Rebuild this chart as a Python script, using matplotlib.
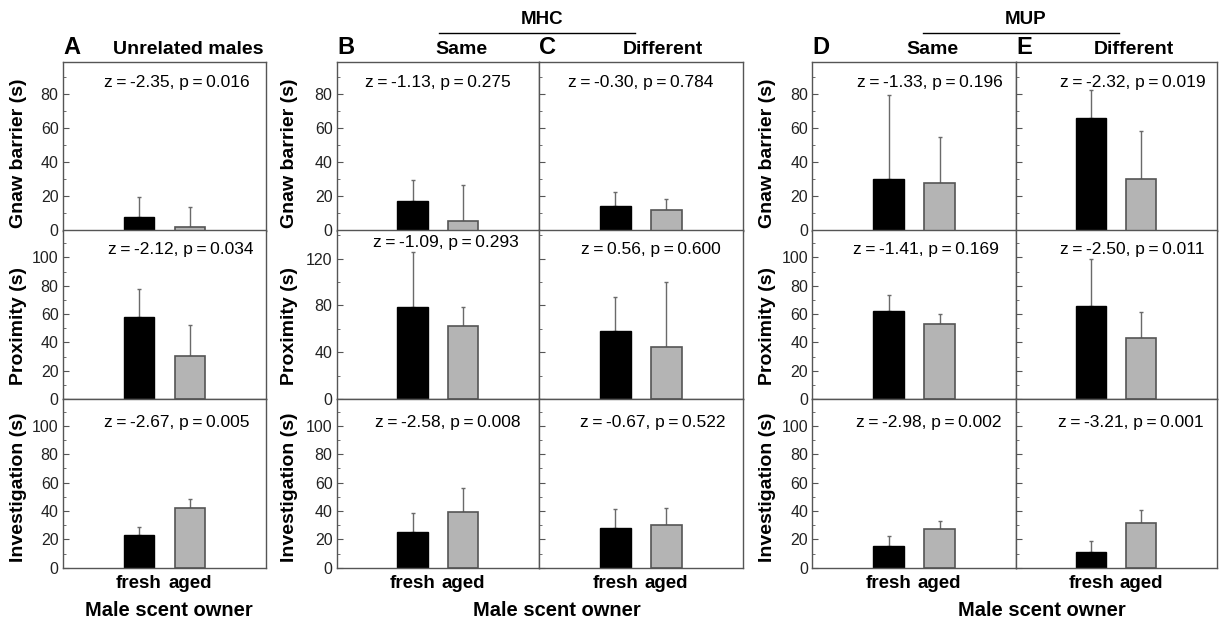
import matplotlib
matplotlib.use('Agg')
import matplotlib.pyplot as plt
from matplotlib.ticker import MultipleLocator
from matplotlib.lines import Line2D

plt.rcParams['font.family'] = ['Liberation Sans', 'DejaVu Sans']

W, H = 1221, 622

# data (means and SEM, seconds)
panels = ['A', 'B', 'C', 'D', 'E']
conditions = ['fresh', 'aged']
measures = ['Gnaw barrier (s)', 'Proximity (s)', 'Investigation (s)']

gnaw_fresh = [8.2, 17.4, 14.3, 30.2, 66.2]
gnaw_fresh_se = [11.3, 12.0, 8.2, 49.6, 16.5]
gnaw_aged = [2.1, 5.6, 12.1, 28.0, 30.2]
gnaw_aged_se = [11.9, 21.0, 6.5, 27.0, 28.2]

prox_fresh = [58.1, 78.6, 57.7, 61.9, 65.9]
prox_fresh_se = [19.5, 46.8, 29.4, 11.3, 32.7]
prox_aged = [30.6, 62.6, 44.8, 52.7, 42.8]
prox_aged_se = [21.4, 15.7, 54.9, 7.1, 18.6]

inv_fresh = [23.2, 25.1, 27.7, 15.2, 11.3]
inv_fresh_se = [5.7, 13.2, 13.7, 7.5, 7.6]
inv_aged = [42.1, 39.5, 30.1, 27.2, 31.7]
inv_aged_se = [6.6, 16.5, 12.2, 5.9, 8.7]

gnaw_z = ['-2.35', '-1.13', '-0.30', '-1.33', '-2.32']
gnaw_p = ['0.016', '0.275', '0.784', '0.196', '0.019']
prox_z = ['-2.12', '-1.09', '0.56', '-1.41', '-2.50']
prox_p = ['0.034', '0.293', '0.600', '0.169', '0.011']
inv_z = ['-2.67', '-2.58', '-0.67', '-2.98', '-3.21']
inv_p = ['0.005', '0.008', '0.522', '0.002', '0.001']

rows = [
    (gnaw_fresh, gnaw_fresh_se, gnaw_aged, gnaw_aged_se, gnaw_z, gnaw_p),
    (prox_fresh, prox_fresh_se, prox_aged, prox_aged_se, prox_z, prox_p),
    (inv_fresh, inv_fresh_se, inv_aged, inv_aged_se, inv_z, inv_p),
]

# layout in pixels
col_x = [(62.7, 266), (336.7, 539), (539, 742.7), (812.3, 1016), (1016, 1216.7)]
row_y = [(62, 230.5), (230.5, 399), (399, 567.7)]
# y limits / tick steps per row; panels B,C use a taller proximity scale
ylims = [[99, 99, 99, 99, 99], [119, 144, 144, 119, 119], [119, 119, 119, 119, 119]]
major = [[20] * 5, [20, 40, 40, 20, 20], [20] * 5]
stat_x = [[0.56, 0.50, 0.50, 0.575, 0.58],
          [0.58, 0.54, 0.55, 0.56, 0.58],
          [0.56, 0.55, 0.556, 0.57, 0.57]]
stat_dy = [[20, 20, 20, 20, 20], [19, 12, 19, 19, 19], [23, 23, 23, 23, 23]]

edge = '#555555'
bar_pos = [1.5, 2.5]
ts = '\u2009'

fig = plt.figure(figsize=(W / 100, H / 100), dpi=100)

for r, (fm, fs, am, ase, zs, ps) in enumerate(rows):
    y0, y1 = row_y[r]
    for c in range(5):
        x0, x1 = col_x[c]
        ax = fig.add_axes([x0 / W, 1 - y1 / H, (x1 - x0) / W, (y1 - y0) / H])
        ax.bar(bar_pos[0], fm[c], 0.6, color='black', edgecolor='black', linewidth=1, zorder=2)
        ax.bar(bar_pos[1], am[c], 0.6, color='#b4b4b4', edgecolor=edge, linewidth=1.2, zorder=2)
        ax.errorbar(bar_pos, [fm[c], am[c]], yerr=[[0, 0], [fs[c], ase[c]]],
                    fmt='none', ecolor='#6a6a6a', elinewidth=1, capsize=1.5, capthick=1, zorder=1)
        ax.set_xlim(0, 4)
        ax.set_ylim(0, ylims[r][c])
        ax.yaxis.set_major_locator(MultipleLocator(major[r][c]))
        ax.yaxis.set_minor_locator(MultipleLocator(major[r][c] / 2))
        ax.tick_params(axis='y', which='both', direction='in', right=False, color=edge,
                       labelsize=11.5, pad=3, labelcolor='#222222')
        ax.tick_params(axis='y', which='major', length=4)
        ax.tick_params(axis='y', which='minor', length=2)
        for s in ax.spines.values():
            s.set_color(edge)
            s.set_linewidth(1)
        if c == 2 or c == 4:
            ax.tick_params(axis='y', labelleft=False)
        if r == 2:
            ax.set_xticks(bar_pos)
            ax.set_xticklabels(conditions, fontsize=13.5, fontweight='bold')
            ax.tick_params(axis='x', length=0, pad=5)
        else:
            ax.set_xticks([])
        label = 'z' + ts + '=' + ts + zs[c] + ', p' + ts + '=' + ts + ps[c]
        ax.text(stat_x[r][c], 1 - stat_dy[r][c] / (y1 - y0), label, transform=ax.transAxes,
                ha='center', va='center', fontsize=12.5)

# row labels
label_x = [19, 289, 767]
label_y = [153, 326, 487]
for lx in label_x:
    for r in range(3):
        fig.text(lx / W, 1 - label_y[r] / H, measures[r], rotation=90, ha='center', va='center',
                 fontsize=14, fontweight='bold')

# panel letters and headers
for letter, lx in zip(panels, [63, 337, 539.5, 812.5, 1016.5]):
    fig.text(lx / W, 1 - 48 / H, letter, ha='left', va='center', fontsize=17, fontweight='bold')
for txt, cx in [('Unrelated males', 188), ('Same', 461), ('Different', 663),
                ('Same', 932), ('Different', 1134)]:
    fig.text(cx / W, 1 - 49 / H, txt, ha='center', va='center', fontsize=14, fontweight='bold')
for txt, cx, la, lb in [('MHC', 542, 439, 635), ('MUP', 1026, 923, 1119)]:
    fig.text(cx / W, 1 - 19 / H, txt, ha='center', va='center', fontsize=13.5, fontweight='bold')
    fig.add_artist(Line2D([la / W, lb / W], [1 - 32.7 / H] * 2, color='black', linewidth=1))

for cx in [169, 557, 1042]:
    fig.text(cx / W, 1 - 610 / H, 'Male scent owner', ha='center', va='center',
             fontsize=14.5, fontweight='bold')

fig.savefig('out.png', dpi=100)
